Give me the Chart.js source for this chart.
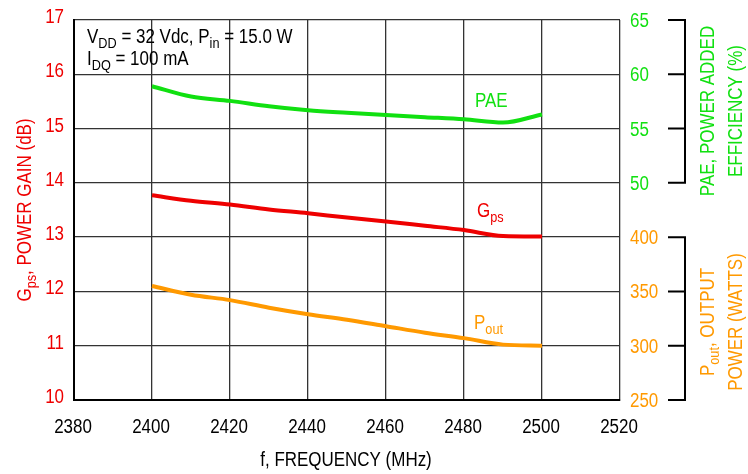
<!DOCTYPE html>
<html>
<head>
<meta charset="utf-8">
<script src="https://cdn.jsdelivr.net/npm/chart.js@4"></script>
<style>
  html, body { margin: 0; padding: 0; background: #fff; }
  #wrap { width: 748px; height: 474px; }
</style>
</head>
<body>
<div id="wrap"><canvas id="ampChart" width="748" height="474"></canvas></div>
<script>
const freqs = [2400, 2410, 2420, 2430, 2440, 2450, 2460, 2470, 2480, 2490, 2500];
const gps   = [13.77, 13.67, 13.60, 13.51, 13.44, 13.36, 13.29, 13.21, 13.13, 13.02, 13.01];
const pae   = [58.9, 57.95, 57.55, 57.05, 56.68, 56.45, 56.25, 56.05, 55.85, 55.55, 56.3];
const pout  = [355, 347, 342, 335, 329, 324, 318, 312, 307, 301, 300];

const xTicks = [2380, 2400, 2420, 2440, 2460, 2480, 2500, 2520];
const gpsTicks = [10, 11, 12, 13, 14, 15, 16, 17];
const paeTicks = [50, 55, 60, 65];
const poutTicks = [250, 300, 350, 400];

const RED = '#ee0000';
const GREEN = '#11e011';
const ORANGE = '#ff9900';
const FONT = "'Liberation Sans', Arial, sans-serif";
const SIZE = 19.5;
const SQUEEZE = 0.87;   // reference uses a condensed face

const pts = (ys) => freqs.map((f, i) => ({ x: f, y: ys[i] }));
const fixTicks = (list) => (s) => { s.ticks = list.map(v => ({ value: v })); };

// draw text made of [text, isSubscript] pieces, condensed horizontally
function richText(ctx, parts, x, y, align) {
  const sub = SIZE * 0.75;
  let w = 0;
  parts.forEach(([t, s]) => {
    ctx.font = (s ? sub : SIZE) + 'px ' + FONT;
    w += ctx.measureText(t).width;
  });
  ctx.save();
  ctx.translate(x, y);
  ctx.scale(SQUEEZE, 1);
  let cx = align === 'center' ? -w / 2 : align === 'right' ? -w : 0;
  ctx.textAlign = 'left';
  ctx.textBaseline = 'alphabetic';
  parts.forEach(([t, s]) => {
    ctx.font = (s ? sub : SIZE) + 'px ' + FONT;
    ctx.fillText(t, cx, s ? SIZE * 0.25 : 0);
    cx += ctx.measureText(t).width;
  });
  ctx.restore();
}

const decorations = {
  id: 'decorations',
  afterDraw(chart) {
    const ctx = chart.ctx;
    const xs = chart.scales.x, ys = chart.scales.y;
    const pa = chart.scales.pae, po = chart.scales.pout;
    ctx.save();

    // tick labels
    ctx.fillStyle = '#000';
    xs.ticks.forEach(t => richText(ctx, [[String(t.value), 0]], xs.getPixelForValue(t.value) - 1, 433, 'center'));
    ctx.fillStyle = RED;
    ys.ticks.forEach(t => richText(ctx, [[String(t.value), 0]], 64, ys.getPixelForValue(t.value) + 3, 'right'));
    ctx.fillStyle = GREEN;
    pa.ticks.forEach(t => richText(ctx, [[String(t.value), 0]], 630, pa.getPixelForValue(t.value) + 7, 'left'));
    ctx.fillStyle = ORANGE;
    po.ticks.forEach(t => richText(ctx, [[String(t.value), 0]], 630, po.getPixelForValue(t.value) + 7, 'left'));

    // conditions box text
    ctx.fillStyle = '#000';
    richText(ctx, [['V', 0], ['DD', 1], [' = 32 Vdc, P', 0], ['in', 1], [' = 15.0 W', 0]], 87, 43, 'left');
    richText(ctx, [['I', 0], ['DQ', 1], [' = 100 mA', 0]], 87, 65, 'left');

    // curve labels
    ctx.fillStyle = GREEN;
    richText(ctx, [['PAE', 0]], 475, 107, 'left');
    ctx.fillStyle = RED;
    richText(ctx, [['G', 0], ['ps', 1]], 477, 217, 'left');
    ctx.fillStyle = ORANGE;
    richText(ctx, [['P', 0], ['out', 1]], 474, 329, 'left');

    // brackets on the right
    ctx.strokeStyle = '#000';
    ctx.lineWidth = 2;
    const bx0 = 668, bx1 = 685;
    const bracket = (scale, ticks) => {
      const top = scale.getPixelForValue(Math.max(...ticks));
      const bot = scale.getPixelForValue(Math.min(...ticks));
      ctx.beginPath();
      ctx.moveTo(bx1, top - 1);
      ctx.lineTo(bx1, bot + 1);
      ticks.forEach(v => {
        const p = scale.getPixelForValue(v);
        ctx.moveTo(bx0, p);
        ctx.lineTo(bx1, p);
      });
      ctx.stroke();
    };
    bracket(pa, paeTicks);
    bracket(po, poutTicks);

    // axis titles
    ctx.fillStyle = '#000';
    richText(ctx, [['f, FREQUENCY (MHz)', 0]], 346, 466, 'center');

    ctx.save();
    ctx.translate(31, 210);
    ctx.rotate(-Math.PI / 2);
    ctx.fillStyle = RED;
    richText(ctx, [['G', 0], ['ps', 1], [', POWER GAIN (dB)', 0]], 0, 0, 'center');
    ctx.restore();

    ctx.save();
    ctx.translate(714, 111);
    ctx.rotate(-Math.PI / 2);
    ctx.fillStyle = GREEN;
    richText(ctx, [['PAE, POWER ADDED', 0]], 0, 0, 'center');
    richText(ctx, [['EFFICIENCY (%)', 0]], 0, 28, 'center');
    ctx.restore();

    ctx.save();
    ctx.translate(714, 322);
    ctx.rotate(-Math.PI / 2);
    ctx.fillStyle = ORANGE;
    richText(ctx, [['P', 0], ['out', 1], [', OUTPUT', 0]], 0, 0, 'center');
    richText(ctx, [['POWER (WATTS)', 0]], 0, 28, 'center');
    ctx.restore();

    ctx.restore();
  }
};

const ctxEl = document.getElementById('ampChart');
new Chart(ctxEl.getContext('2d'), {
  type: 'line',
  data: {
    datasets: [
      { label: 'PAE', data: pts(pae), yAxisID: 'pae', borderColor: GREEN, borderWidth: 4 },
      { label: 'Gps', data: pts(gps), yAxisID: 'y', borderColor: RED, borderWidth: 4 },
      { label: 'Pout', data: pts(pout), yAxisID: 'pout', borderColor: ORANGE, borderWidth: 4 }
    ]
  },
  options: {
    responsive: false,
    animation: false,
    devicePixelRatio: 1,
    layout: { padding: { top: 20, left: 0, right: 128, bottom: 0 } },
    elements: {
      point: { radius: 0 },
      line: { cubicInterpolationMode: 'monotone', fill: false }
    },
    plugins: {
      legend: { display: false },
      tooltip: { enabled: false }
    },
    scales: {
      x: {
        type: 'linear',
        min: 2380, max: 2520,
        afterBuildTicks: fixTicks(xTicks),
        afterFit: (s) => { s.height = 74; },
        grid: { color: '#333', lineWidth: 1.3, drawTicks: false },
        border: { color: '#000', width: 2 },
        ticks: { display: false }
      },
      y: {
        position: 'left',
        min: 10, max: 17,
        afterBuildTicks: fixTicks(gpsTicks),
        afterFit: (s) => { s.width = 74; },
        grid: { color: '#333', lineWidth: 1.3, drawTicks: false },
        border: { color: '#000', width: 2 },
        ticks: { display: false }
      },
      pae: {
        position: 'right',
        display: false,
        min: 30, max: 65,
        afterBuildTicks: fixTicks(paeTicks)
      },
      pout: {
        position: 'right',
        display: false,
        min: 250, max: 600,
        afterBuildTicks: fixTicks(poutTicks)
      }
    }
  },
  plugins: [decorations]
});
</script>
</body>
</html>
